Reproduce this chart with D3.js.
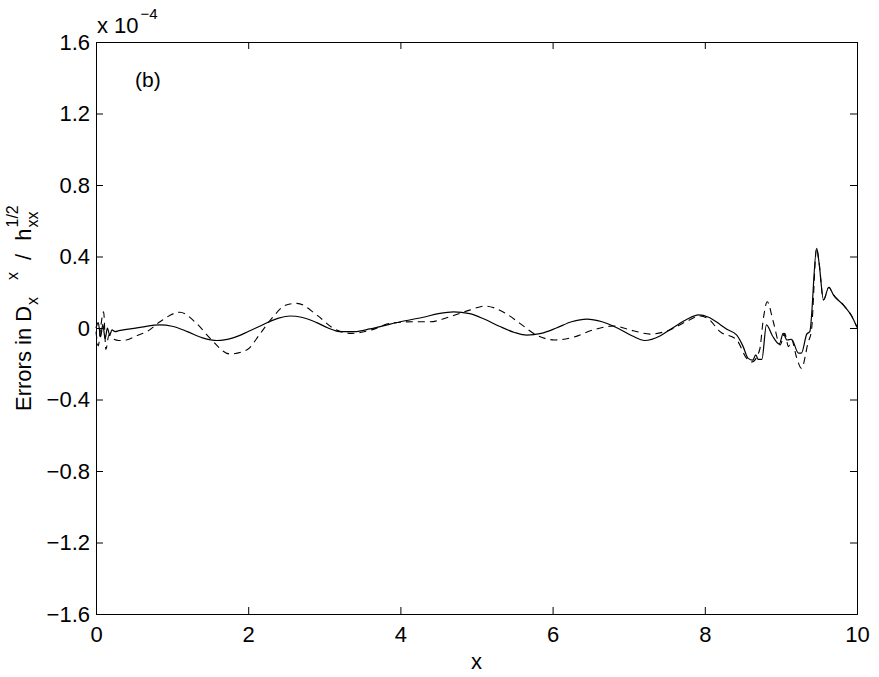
<!DOCTYPE html>
<html>
<head>
<meta charset="utf-8">
<script src="https://cdn.jsdelivr.net/npm/d3@7"></script>
<style>
  body { margin: 0; background: #fff; }
  text { font-family: "Liberation Sans", Arial, sans-serif; fill: #000; }
</style>
</head>
<body>
<div id="chart"></div>
<script>
// values are in units of 1e-4
var solidX = [0, 0.03, 0.06, 0.09, 0.12, 0.15, 0.18, 0.21, 0.25, 0.30, 0.45, 0.6, 0.84, 1.0, 1.2, 1.4, 1.59, 1.8, 2.0, 2.2, 2.4, 2.55, 2.7, 2.9, 3.05, 3.2, 3.4, 3.6, 3.8, 4.0, 4.3, 4.5, 4.7, 4.91, 5.1, 5.3, 5.5, 5.66, 5.85, 6.05, 6.25, 6.45, 6.65, 6.85, 7.05, 7.21, 7.41, 7.54, 7.75, 7.92, 8.05, 8.2, 8.29, 8.42, 8.5, 8.57, 8.63, 8.67, 8.70, 8.75, 8.81, 8.89, 8.98, 9.03, 9.08, 9.14, 9.23, 9.27, 9.34, 9.38, 9.47, 9.50, 9.56, 9.63, 9.69, 9.82, 9.93, 10]
var solidY = [0.0, 0.03, -0.05, 0.02, -0.06, 0.0, -0.04, -0.01, -0.02, -0.015, -0.005, 0.005, 0.017, 0.01, -0.02, -0.055, -0.07, -0.055, -0.02, 0.02, 0.055, 0.067, 0.06, 0.03, 0.0, -0.02, -0.02, -0.005, 0.015, 0.035, 0.06, 0.08, 0.09, 0.08, 0.05, 0.01, -0.025, -0.04, -0.03, 0.0, 0.035, 0.05, 0.035, 0.0, -0.045, -0.07, -0.045, -0.01, 0.045, 0.073, 0.06, 0.02, -0.007, -0.04, -0.1, -0.17, -0.18, -0.15, -0.175, -0.175, 0.017, -0.045, -0.09, -0.03, -0.067, -0.063, -0.14, -0.14, -0.034, -0.02, 0.446, 0.37, 0.157, 0.228, 0.185, 0.129, 0.067, 0.004]

var dashX = [0, 0.03, 0.06, 0.1, 0.13, 0.17, 0.22, 0.3, 0.4, 0.55, 0.67, 0.84, 1.1, 1.32, 1.5, 1.76, 1.98, 2.16, 2.31, 2.5, 2.64, 2.9, 3.12, 3.36, 3.62, 3.86, 4.17, 4.39, 4.65, 4.91, 5.11, 5.35, 5.57, 5.79, 6.03, 6.27, 6.53, 6.8, 7.06, 7.28, 7.54, 7.75, 7.94, 8.05, 8.2, 8.42, 8.55, 8.62, 8.72, 8.77, 8.82, 8.90, 8.99, 9.05, 9.10, 9.14, 9.21, 9.27, 9.36, 9.40, 9.47, 9.50, 9.56, 9.63, 9.69, 9.82, 9.93, 10]
var dashY = [-0.02, -0.10, 0.0, 0.09, -0.12, -0.04, -0.06, -0.07, -0.067, -0.04, -0.02, 0.035, 0.088, 0.026, -0.058, -0.145, -0.123, -0.03, 0.054, 0.129, 0.138, 0.073, -0.002, -0.03, -0.011, 0.026, 0.035, 0.035, 0.063, 0.1, 0.123, 0.09, 0.026, -0.04, -0.067, -0.052, -0.011, 0.011, -0.015, -0.034, -0.011, 0.035, 0.067, 0.05, -0.02, -0.067, -0.17, -0.19, -0.123, 0.054, 0.147, 0.035, -0.095, -0.03, -0.104, -0.067, -0.17, -0.226, -0.077, -0.02, 0.446, 0.37, 0.157, 0.228, 0.185, 0.129, 0.067, 0.004]

var xTicks = [0, 2, 4, 6, 8, 10]
var yTicks = [-1.6, -1.2, -0.8, -0.4, 0, 0.4, 0.8, 1.2, 1.6]

var width = 879, height = 677
var margin = { top: 42, right: 22, bottom: 63, left: 96 }
var w = width - margin.left - margin.right
var h = height - margin.top - margin.bottom
var tickLen = 7

var svg = d3.select("#chart").append("svg")
    .attr("width", width)
    .attr("height", height)

var g = svg.append("g")
    .attr("transform", "translate(" + margin.left + "," + margin.top + ")")

var x = d3.scaleLinear().domain([0, 10]).range([0, w])
var y = d3.scaleLinear().domain([-1.6, 1.6]).range([h, 0])

var fmtY = function (d) { return d === 0 ? "0" : d3.format(".1f")(d) }

// bottom + top axes, ticks pointing inward
g.append("g")
    .attr("class", "axis")
    .attr("transform", "translate(0," + h + ")")
    .call(d3.axisBottom(x).tickValues(xTicks).tickSize(-tickLen).tickPadding(12).tickFormat(d3.format("d")))
g.append("g")
    .attr("class", "axis")
    .call(d3.axisTop(x).tickValues(xTicks).tickSize(-tickLen).tickFormat(""))

g.append("g")
    .attr("class", "axis")
    .call(d3.axisLeft(y).tickValues(yTicks).tickSize(-tickLen).tickPadding(6).tickFormat(fmtY))
g.append("g")
    .attr("class", "axis")
    .attr("transform", "translate(" + w + ",0)")
    .call(d3.axisRight(y).tickValues(yTicks).tickSize(-tickLen).tickFormat(""))

g.selectAll(".axis path").attr("stroke", "#000").attr("stroke-width", 1)
g.selectAll(".axis line").attr("stroke", "#000").attr("stroke-width", 1)
g.selectAll(".axis text")
    .attr("font-family", "Liberation Sans, Arial, sans-serif")
    .attr("font-size", 22)
    .attr("fill", "#000")

var line = d3.line()
    .x(function (d) { return x(d[0]) })
    .y(function (d) { return y(d[1]) })
    .curve(d3.curveMonotoneX)

var solid = solidX.map(function (v, i) { return [v, solidY[i]] })
var dashed = dashX.map(function (v, i) { return [v, dashY[i]] })

g.append("path")
    .datum(dashed)
    .attr("d", line)
    .attr("fill", "none")
    .attr("stroke", "#000")
    .attr("stroke-width", 1.1)
    .attr("stroke-dasharray", "7,5")

g.append("path")
    .datum(solid)
    .attr("d", line)
    .attr("fill", "none")
    .attr("stroke", "#000")
    .attr("stroke-width", 1.2)

// exponent note
var ex = svg.append("text")
    .attr("x", 97)
    .attr("y", 33)
    .attr("font-size", 22)
ex.append("tspan").text("x 10")
ex.append("tspan").attr("font-size", 15).attr("dy", -14).attr("dx", 2).text("\u22124")

// panel label
svg.append("text")
    .attr("x", 135)
    .attr("y", 87)
    .attr("font-size", 21)
    .text("(b)")

// x label
svg.append("text")
    .attr("x", margin.left + w / 2)
    .attr("y", 669)
    .attr("text-anchor", "middle")
    .attr("font-size", 22)
    .text("x")

// y label with sub/superscripts
var yl = svg.append("text")
    .attr("transform", "translate(31,411) rotate(-90)")
    .attr("font-size", 22)
yl.append("tspan").text("Errors in D")
yl.append("tspan").attr("font-size", 16).attr("dy", 7).attr("dx", 1).text("x")
yl.append("tspan").attr("font-size", 16).attr("dy", -20).attr("dx", 17).text("x")
yl.append("tspan").attr("dy", 13).attr("dx", 12).text("/")
yl.append("tspan").attr("dx", 13).text("h")
var sub = yl.append("tspan").attr("font-size", 16).attr("dy", 7).attr("dx", 1).text("xx")
var subLen = sub.node().getComputedTextLength()
yl.append("tspan").attr("font-size", 16).attr("dy", -20).attr("dx", -subLen).text("1/2")
</script>
</body>
</html>
